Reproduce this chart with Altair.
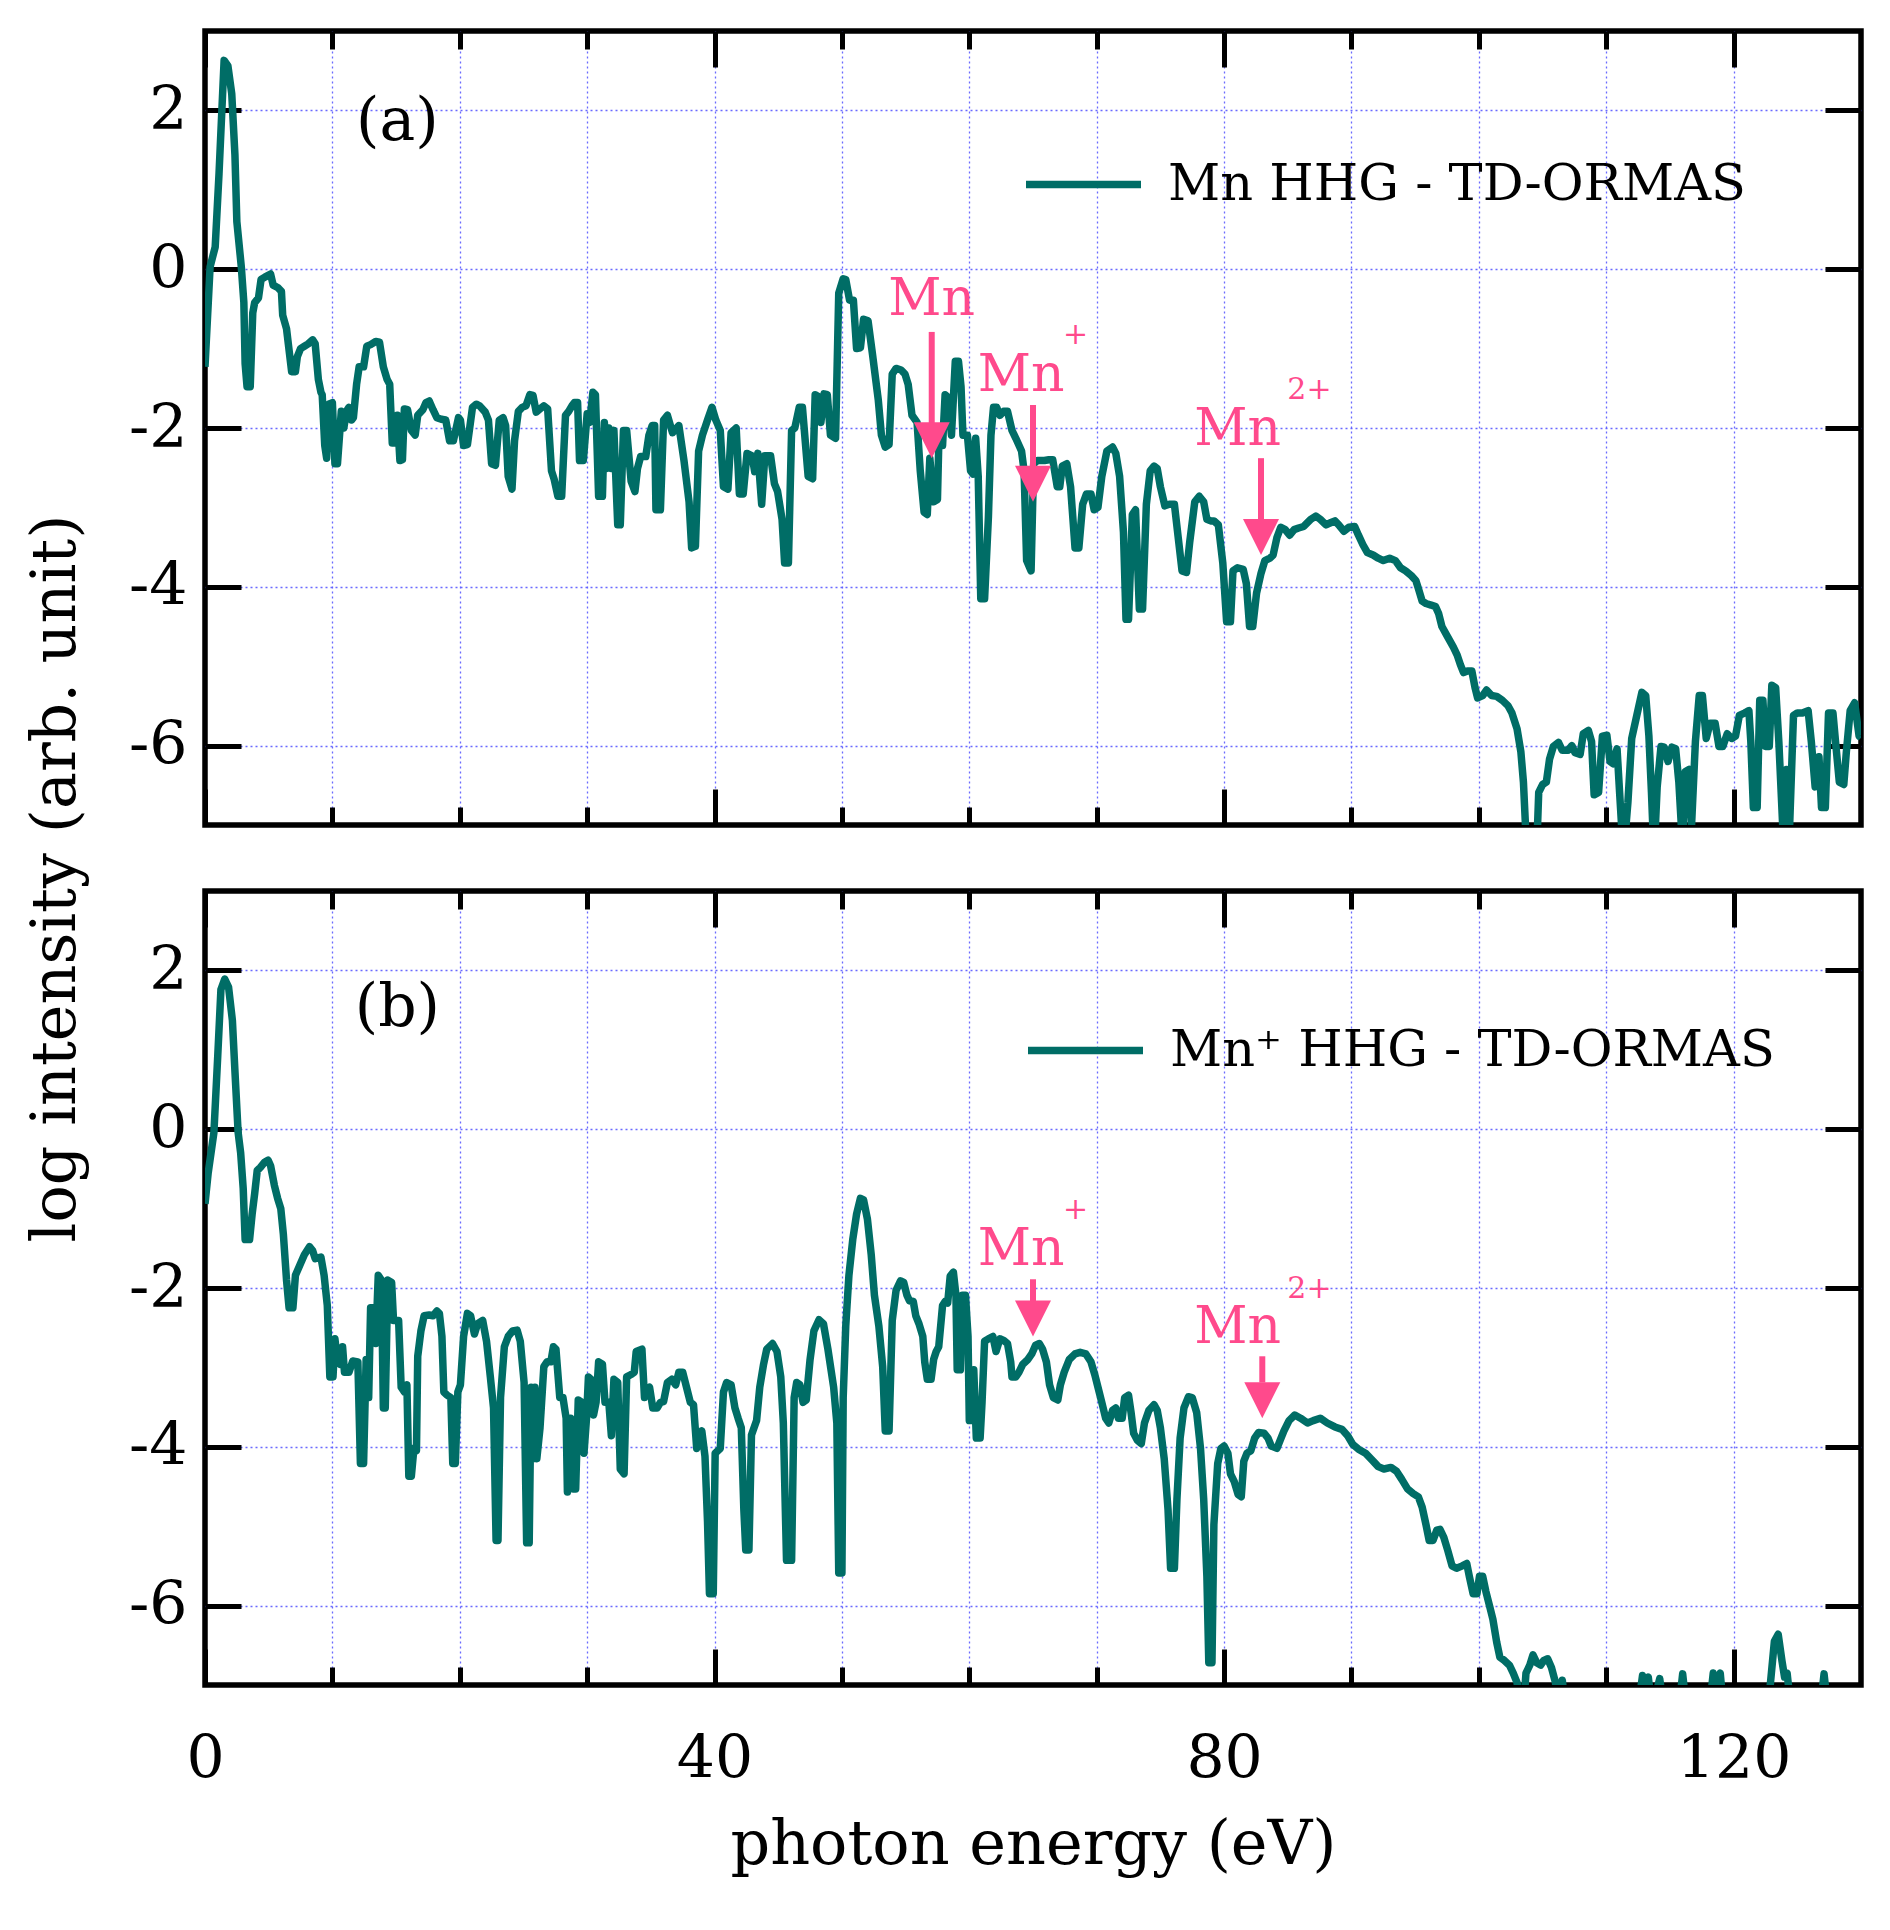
import altair as alt
import pandas as pd

# ---------------- data ----------------
energy_a = [0.0, 0.4, 0.8, 1.1, 1.5, 1.8, 2.1, 2.35, 2.5, 2.85, 3.05, 3.15, 3.3, 3.55, 3.75, 3.9, 4.2, 4.4, 4.7, 5.15,
            5.35, 5.7, 6.0, 6.1, 6.4, 6.8, 7.1, 7.25, 7.5, 7.8, 8.1, 8.45, 8.65, 8.9, 9.1, 9.2, 9.4, 9.55, 9.7, 10.0,
            10.2, 10.4, 10.7, 10.9, 11.1, 11.3, 11.5, 11.65, 11.9, 12.1, 12.45, 12.7, 13.0, 13.4, 13.7, 14.0, 14.3, 14.5, 14.7, 14.9,
            15.1, 15.3, 15.5, 15.65, 15.9, 16.2, 16.5, 16.7, 17.1, 17.35, 17.6, 17.9, 18.2, 18.55, 18.9, 19.2, 19.5, 19.9, 20.05, 20.3,
            20.6, 21.0, 21.3, 21.55, 22.0, 22.25, 22.5, 22.8, 23.1, 23.4, 23.6, 23.8, 24.1, 24.3, 24.6, 24.9, 25.2, 25.5, 25.75, 26.0,
            26.3, 26.6, 26.9, 27.2, 27.4, 27.7, 28.0, 28.3, 28.55, 28.85, 29.0, 29.25, 29.4, 29.7, 30.0, 30.2, 30.45, 30.65, 30.9, 31.2,
            31.35, 31.5, 31.7, 31.9, 32.1, 32.4, 32.6, 32.85, 33.1, 33.45, 33.75, 33.95, 34.2, 34.6, 34.85, 35.1, 35.3, 35.4, 35.75, 36.0,
            36.3, 36.7, 37.2, 37.6, 38.0, 38.2, 38.5, 38.75, 39.05, 39.45, 39.8, 40.1, 40.45, 40.7, 41.05, 41.3, 41.7, 41.95, 42.25, 42.55,
            42.95, 43.15, 43.4, 43.7, 43.95, 44.4, 44.7, 44.95, 45.3, 45.5, 45.8, 46.05, 46.3, 46.65, 46.9, 47.35, 47.7, 47.9, 48.2, 48.35,
            48.6, 48.85, 49.1, 49.5, 49.75, 50.1, 50.3, 50.6, 50.9, 51.15, 51.45, 51.7, 52.05, 52.4, 52.85, 53.1, 53.4, 53.7, 53.95, 54.25,
            54.65, 54.95, 55.2, 55.5, 55.9, 56.15, 56.45, 56.7, 56.9, 57.2, 57.5, 57.6, 57.9, 58.1, 58.3, 58.6, 58.9, 59.15, 59.35, 59.5,
            59.85, 60.1, 60.3, 60.5, 60.7, 60.9, 61.2, 61.5, 61.7, 61.9, 62.15, 62.4, 62.7, 63.0, 63.35, 63.65, 64.1, 64.3, 64.5, 64.85,
            65.05, 65.35, 65.6, 65.9, 66.25, 66.55, 66.9, 67.1, 67.3, 67.65, 67.95, 68.3, 68.6, 68.9, 69.2, 69.55, 69.8, 70.1, 70.4, 70.8,
            71.25, 71.5, 71.8, 72.1, 72.3, 72.5, 72.8, 73.05, 73.35, 73.6, 73.9, 74.2, 74.5, 74.75, 75.0, 75.35, 75.7, 76.1, 76.4, 76.7,
            77.05, 77.3, 77.7, 78.05, 78.4, 78.65, 78.95, 79.2, 79.55, 79.9, 80.2, 80.5, 80.7, 81.05, 81.5, 81.75, 82.0, 82.25, 82.55, 82.9,
            83.2, 83.6, 83.85, 84.15, 84.45, 84.8, 85.15, 85.5, 85.85, 86.25, 86.8, 87.2, 87.55, 88.0, 88.4, 88.7, 89.0, 89.4, 89.8, 90.25,
            90.55, 90.9, 91.25, 91.7, 92.1, 92.5, 93.0, 93.45, 93.85, 94.25, 94.7, 95.05, 95.25, 95.55, 95.85, 96.25, 96.6, 96.85, 97.1, 97.55,
            98.0, 98.3, 98.55, 98.8, 99.1, 99.45, 99.7, 99.9, 100.3, 100.6, 101.0, 101.4, 101.85, 102.3, 102.6, 103.0, 103.3, 103.5, 103.65, 103.8,
            104.5, 104.7, 105.0, 105.3, 105.55, 105.85, 106.25, 106.55, 107.0, 107.3, 107.55, 107.95, 108.2, 108.6, 108.85, 109.05, 109.4, 109.7, 110.05, 110.3,
            110.55, 110.85, 111.05, 111.35, 111.7, 112.0, 112.4, 112.8, 113.1, 113.35, 113.55, 113.75, 114.0, 114.3, 114.55, 114.85, 115.15, 115.45, 115.7, 116.0,
            116.2, 116.5, 116.7, 117.0, 117.3, 117.55, 117.85, 118.15, 118.55, 118.85, 119.15, 119.5, 119.85, 120.15, 120.45, 120.85, 121.2, 121.35, 121.55, 121.85,
            122.05, 122.3, 122.5, 122.8, 123.0, 123.3, 123.55, 123.85, 124.15, 124.4, 124.7, 125.0, 125.4, 125.85, 126.1, 126.4, 126.7, 126.9, 127.2, 127.45,
            127.8, 128.0, 128.3, 128.65, 128.85, 129.15, 129.5, 129.85, 130.0]
log_a = [-1.23, 0.03, 0.28, 1.2, 2.63, 2.56, 2.21, 1.44, 0.6, 0.03, -0.42, -1.19, -1.48, -1.48, -0.55, -0.42, -0.36, -0.13, -0.10, -0.06,
         -0.2, -0.23, -0.28, -0.58, -0.75, -1.29, -1.29, -1.1, -1.0, -0.97, -0.94, -0.89, -0.94, -1.39, -1.55, -1.58, -2.22, -2.38, -1.7, -1.68,
         -2.45, -2.45, -1.79, -2.0, -1.79, -1.74, -1.9, -1.87, -1.45, -1.23, -1.23, -0.97, -0.95, -0.91, -0.92, -1.23, -1.39, -1.45, -2.19, -2.19,
         -1.84, -2.41, -2.4, -1.76, -1.77, -2.03, -2.09, -1.84, -1.77, -1.68, -1.66, -1.77, -1.87, -1.89, -1.9, -2.16, -2.16, -1.87, -1.9, -2.22,
         -2.21, -1.74, -1.7, -1.72, -1.8, -1.9, -2.45, -2.47, -1.9, -1.87, -1.97, -2.61, -2.77, -2.16, -1.79, -1.74, -1.72, -1.58, -1.59, -1.8,
         -1.76, -1.72, -1.76, -2.54, -2.64, -2.86, -2.86, -1.84, -1.79, -1.71, -1.68, -1.68, -2.41, -2.41, -1.82, -1.93, -1.55, -1.58, -2.86, -2.86,
         -1.93, -2.51, -2.0, -2.51, -2.03, -3.22, -3.22, -2.03, -2.03, -2.67, -2.8, -2.51, -2.36, -2.36, -2.09, -1.97, -1.97, -3.03, -3.03, -1.9,
         -1.84, -2.06, -1.97, -2.41, -2.93, -3.51, -3.49, -2.29, -2.09, -1.9, -1.74, -1.9, -2.03, -2.74, -2.77, -2.06, -2.0, -2.83, -2.83, -2.32,
         -2.35, -2.55, -2.32, -2.96, -2.35, -2.35, -2.7, -2.8, -3.15, -3.7, -3.7, -2.03, -2.0, -1.74, -1.74, -2.61, -2.64, -1.58, -1.61, -1.93,
         -1.57, -1.58, -2.09, -2.13, -0.3, -0.12, -0.13, -0.39, -0.39, -1.0, -0.99, -0.63, -0.65, -1.07, -1.64, -2.09, -2.24, -2.21, -1.32, -1.25,
         -1.27, -1.32, -1.45, -1.84, -1.93, -2.54, -3.06, -3.09, -2.38, -2.93, -2.9, -2.22, -2.22, -1.58, -1.61, -2.09, -1.16, -1.16, -1.48, -2.09,
         -2.09, -2.54, -2.58, -2.13, -2.61, -4.15, -4.15, -3.12, -2.09, -1.74, -1.74, -1.84, -1.79, -1.79, -2.03, -2.13, -2.29, -2.54, -3.67, -3.8,
         -2.45, -2.41, -2.41, -2.41, -2.4, -2.4, -2.74, -2.74, -2.48, -2.45, -2.74, -3.51, -3.51, -2.96, -2.83, -2.83, -3.03, -3.0, -2.61, -2.29,
         -2.24, -2.32, -2.61, -3.31, -4.41, -4.41, -3.09, -3.03, -4.28, -4.28, -2.96, -2.54, -2.48, -2.51, -2.74, -2.98, -2.96, -2.96, -3.38, -3.8,
         -3.82, -3.44, -2.93, -2.86, -2.93, -3.15, -3.17, -3.17, -3.22, -3.7, -4.44, -4.44, -3.8, -3.76, -3.78, -3.96, -4.5, -4.5, -4.08, -3.83,
         -3.67, -3.64, -3.6, -3.38, -3.25, -3.28, -3.35, -3.28, -3.26, -3.24, -3.15, -3.11, -3.15, -3.22, -3.19, -3.17, -3.22, -3.3, -3.25, -3.24,
         -3.35, -3.47, -3.57, -3.6, -3.64, -3.67, -3.64, -3.67, -3.76, -3.8, -3.86, -3.92, -4.02, -4.18, -4.21, -4.23, -4.25, -4.34, -4.5, -4.63,
         -4.76, -4.86, -4.98, -5.08, -5.06, -5.06, -5.27, -5.4, -5.37, -5.3, -5.37, -5.38, -5.43, -5.5, -5.59, -5.79, -6.08, -6.46, -6.97, -7.5,
         -7.5, -6.59, -6.49, -6.46, -6.17, -6.01, -5.96, -6.06, -6.06, -6.0, -6.09, -6.11, -5.85, -5.81, -5.95, -6.62, -6.59, -5.88, -5.87, -6.2,
         -6.23, -6.04, -6.59, -7.4, -6.72, -5.91, -5.62, -5.33, -5.37, -5.88, -6.59, -7.4, -6.52, -6.01, -6.02, -6.2, -6.02, -6.04, -6.46, -7.3,
         -6.33, -6.3, -7.0, -5.95, -5.37, -5.37, -5.91, -5.72, -5.72, -6.01, -6.01, -5.85, -5.91, -5.88, -5.62, -5.59, -5.56, -5.95, -6.78, -6.78,
         -5.43, -5.43, -6.01, -6.01, -5.24, -5.27, -5.95, -7.0, -6.3, -7.0, -5.62, -5.59, -5.59, -5.56, -5.95, -6.52, -6.14, -6.78, -6.78, -5.59,
         -5.59, -5.95, -6.46, -6.49, -6.08, -5.56, -5.46, -5.88, -5.9]

energy_b = [0.0, 0.25, 0.7, 1.0, 1.25, 1.55, 1.85, 2.15, 2.35, 2.6, 2.8, 3.0, 3.15, 3.5, 3.7, 3.9, 4.1, 4.35, 4.65, 4.95,
            5.15, 5.45, 5.7, 5.95, 6.15, 6.4, 6.6, 6.9, 7.1, 7.45, 7.8, 8.2, 8.45, 8.65, 9.1, 9.35, 9.6, 9.8, 10.05, 10.2,
            10.4, 10.6, 10.8, 10.95, 11.3, 11.6, 12.0, 12.2, 12.45, 12.65, 12.85, 13.0, 13.2, 13.4, 13.6, 13.85, 14.0, 14.15, 14.35, 14.65,
            14.8, 15.2, 15.4, 15.65, 15.85, 16.0, 16.2, 16.4, 16.6, 16.7, 16.95, 17.2, 17.6, 17.9, 18.2, 18.4, 18.6, 18.75, 19.0, 19.3,
            19.45, 19.65, 19.85, 20.05, 20.3, 20.6, 20.85, 21.15, 21.4, 21.8, 22.1, 22.4, 22.65, 22.85, 23.0, 23.2, 23.5, 23.8, 24.15, 24.5,
            24.75, 25.05, 25.25, 25.45, 25.6, 25.75, 25.9, 26.05, 26.3, 26.6, 26.85, 27.15, 27.35, 27.55, 27.85, 28.1, 28.35, 28.45, 28.7, 28.9,
            29.1, 29.3, 29.6, 29.75, 29.95, 30.1, 30.3, 30.5, 30.7, 30.9, 31.2, 31.4, 31.7, 31.9, 32.1, 32.4, 32.6, 32.9, 33.1, 33.45,
            33.7, 33.85, 34.3, 34.5, 34.7, 34.9, 35.15, 35.5, 35.75, 36.0, 36.3, 36.65, 36.95, 37.2, 37.5, 37.8, 38.1, 38.35, 38.6, 39.0,
            39.25, 39.45, 39.6, 39.9, 40.05, 40.45, 40.7, 40.95, 41.3, 41.6, 41.85, 42.1, 42.3, 42.45, 42.7, 42.9, 43.3, 43.55, 43.85, 44.1,
            44.55, 44.9, 45.2, 45.4, 45.65, 46.05, 46.25, 46.45, 46.7, 46.95, 47.2, 47.5, 47.8, 48.2, 48.55, 48.9, 49.35, 49.6, 49.75, 50.0,
            50.1, 50.3, 50.55, 50.85, 51.15, 51.45, 51.7, 52.0, 52.3, 52.55, 52.9, 53.2, 53.4, 53.7, 53.95, 54.25, 54.6, 54.85, 55.1, 55.3,
            55.6, 55.8, 56.05, 56.35, 56.5, 56.7, 57.0, 57.2, 57.4, 57.6, 57.9, 58.1, 58.3, 58.5, 58.75, 58.95, 59.05, 59.3, 59.45, 59.7,
            59.9, 60.0, 60.2, 60.35, 60.55, 60.85, 61.0, 61.2, 61.5, 61.85, 62.1, 62.4, 62.7, 63.0, 63.25, 63.35, 63.65, 63.9, 64.2, 64.6,
            64.9, 65.2, 65.5, 65.75, 66.05, 66.3, 66.6, 66.95, 67.15, 67.45, 67.85, 68.3, 68.7, 69.15, 69.55, 69.85, 70.1, 70.4, 70.7, 70.95,
            71.25, 71.5, 71.7, 72.0, 72.2, 72.5, 72.7, 72.9, 73.2, 73.5, 73.75, 74.1, 74.5, 74.75, 75.0, 75.3, 75.6, 75.8, 76.1, 76.3,
            76.55, 76.85, 77.2, 77.5, 77.85, 78.15, 78.4, 78.65, 78.8, 79.05, 79.2, 79.5, 79.75, 80.0, 80.3, 80.5, 80.8, 81.1, 81.35, 81.55,
            81.8, 82.1, 82.4, 82.7, 83.15, 83.45, 83.7, 84.15, 84.4, 84.7, 85.1, 85.55, 86.0, 86.55, 87.0, 87.55, 88.1, 88.7, 89.25, 89.7,
            90.1, 90.55, 91.1, 91.7, 92.1, 92.55, 93.1, 93.55, 93.95, 94.4, 94.85, 95.25, 95.55, 95.85, 96.1, 96.4, 96.7, 96.95, 97.25, 97.55,
            97.9, 98.25, 98.7, 99.05, 99.25, 99.55, 99.85, 100.05, 100.3, 100.55, 100.85, 101.1, 101.4, 101.65, 102.0, 102.4, 102.7, 103.0, 103.3, 103.5,
            103.7, 104.0, 104.25, 104.55, 104.85, 105.1, 105.4, 105.7, 106.0, 106.25, 106.55, 106.8, 112.5, 112.85, 113.1, 113.3, 113.6, 114.2, 114.5, 115.7,
            116.0, 116.3, 118.1, 118.4, 118.7, 118.95, 119.2, 122.7, 123.2, 123.5, 123.8, 124.0, 124.2, 124.5, 126.8, 127.1, 127.4, 130.0]
log_b = [-0.94, -0.55, -0.04, 0.92, 1.76, 1.89, 1.79, 1.37, 0.73, -0.04, -0.3, -0.75, -1.39, -1.39, -1.07, -0.81, -0.52, -0.48, -0.42, -0.39,
         -0.46, -0.71, -0.87, -1.0, -1.32, -1.9, -2.25, -2.25, -1.84, -1.71, -1.58, -1.48, -1.53, -1.63, -1.61, -1.84, -2.22, -3.12, -3.12, -2.64,
         -2.93, -2.96, -2.74, -3.06, -3.06, -2.92, -2.93, -4.21, -4.21, -2.9, -3.38, -2.25, -2.25, -2.7, -1.84, -1.9, -3.51, -3.51, -1.9, -1.93,
         -2.41, -2.41, -3.25, -3.31, -3.22, -4.37, -4.37, -4.02, -4.05, -2.86, -2.54, -2.35, -2.34, -2.35, -2.29, -2.32, -2.61, -3.31, -3.35, -3.38,
         -4.21, -4.21, -3.31, -3.22, -2.61, -2.32, -2.35, -2.58, -2.45, -2.41, -2.67, -3.12, -3.51, -5.18, -5.18, -3.38, -2.74, -2.61, -2.54, -2.53,
         -2.67, -3.19, -5.21, -5.21, -3.25, -4.15, -3.25, -4.15, -3.76, -2.99, -2.93, -2.93, -2.74, -2.77, -3.38, -3.38, -3.64, -4.57, -3.64, -4.53,
         -4.53, -3.41, -3.44, -4.08, -3.64, -3.12, -3.15, -3.6, -3.44, -2.93, -2.96, -3.44, -3.44, -3.86, -3.15, -3.19, -4.28, -4.34, -3.12, -3.09,
         -3.06, -2.8, -2.77, -3.38, -3.28, -3.25, -3.51, -3.51, -3.44, -3.43, -3.19, -3.15, -3.22, -3.06, -3.06, -3.25, -3.44, -3.47, -4.02, -3.8,
         -4.12, -4.95, -5.85, -5.85, -4.08, -4.02, -3.31, -3.19, -3.22, -3.51, -3.64, -3.76, -4.79, -5.3, -5.3, -3.85, -3.67, -3.25, -2.96, -2.77,
         -2.7, -2.8, -3.12, -3.7, -5.43, -5.43, -3.38, -3.19, -3.22, -3.44, -3.41, -2.9, -2.54, -2.4, -2.45, -2.77, -3.25, -3.7, -5.59, -5.59,
         -3.38, -2.48, -1.84, -1.39, -1.07, -0.87, -0.89, -1.13, -1.58, -2.09, -2.48, -2.99, -3.8, -3.8, -2.41, -2.03, -1.91, -1.93, -2.09, -2.16,
         -2.17, -2.35, -2.45, -2.61, -2.93, -3.15, -3.15, -2.9, -2.8, -2.74, -2.22, -2.17, -2.19, -1.85, -1.8, -2.09, -3.03, -3.03, -2.09, -2.09,
         -2.61, -3.67, -3.67, -3.03, -3.89, -3.89, -3.44, -2.67, -2.64, -2.61, -2.8, -2.64, -2.66, -2.7, -2.93, -3.12, -3.12, -3.06, -2.96, -2.9,
         -2.83, -2.72, -2.7, -2.77, -2.93, -3.22, -3.38, -3.41, -3.22, -3.06, -2.9, -2.83, -2.81, -2.83, -2.93, -3.09, -3.25, -3.44, -3.64, -3.7,
         -3.54, -3.51, -3.64, -3.64, -3.38, -3.35, -3.57, -3.83, -3.92, -3.96, -3.7, -3.54, -3.47, -3.54, -3.76, -4.15, -4.79, -5.53, -5.53, -4.66,
         -3.89, -3.51, -3.37, -3.38, -3.57, -4.02, -4.66, -5.63, -6.72, -6.72, -4.98, -4.21, -4.02, -3.99, -4.08, -4.34, -4.44, -4.6, -4.63, -4.18,
         -4.08, -4.05, -3.89, -3.82, -3.83, -3.89, -3.99, -4.02, -3.92, -3.8, -3.67, -3.6, -3.64, -3.7, -3.67, -3.64, -3.7, -3.75, -3.78, -3.86,
         -3.97, -4.03, -4.08, -4.18, -4.25, -4.28, -4.26, -4.31, -4.41, -4.53, -4.59, -4.63, -4.76, -4.98, -5.18, -5.18, -5.05, -5.04, -5.14, -5.3,
         -5.5, -5.53, -5.5, -5.47, -5.63, -5.85, -5.85, -5.63, -5.63, -5.82, -6.01, -6.17, -6.46, -6.65, -6.69, -6.75, -6.85, -6.97, -7.3, -7.3,
         -6.85, -6.75, -6.62, -6.72, -6.75, -6.69, -6.67, -6.78, -6.96, -7.2, -6.94, -7.3, -7.3, -6.88, -7.0, -6.9, -7.3, -6.92, -7.3, -7.3,
         -6.86, -7.3, -7.3, -6.85, -7.0, -6.85, -7.3, -7.3, -6.45, -6.36, -6.7, -6.9, -6.85, -7.3, -7.3, -6.86, -7.3, -7.3]

series_a = "Mn HHG - TD-ORMAS"
series_b = "Mn\u207a HHG - TD-ORMAS"

# ionisation-threshold annotations (photon energy, log intensity)
ann_a_x = [57.05, 65.0, 82.9]
ann_a_shaft_top = [-0.79, -1.71, -2.38]
ann_a_head_top = [-1.95, -2.49, -3.17]
ann_a_tip = [-2.38, -2.93, -3.60]
ann_a_label_x = [57.05, 64.07, 81.07]
ann_a_label_y = [-0.58, -1.53, -2.21]
ann_a_sup = ["", "+", "2+"]
ann_a_sup_x = [57.05, 68.34, 86.7]
ann_a_sup_y = [-0.58, -0.94, -1.64]

ann_b_x = [65.0, 83.0]
ann_b_shaft_top = [-1.89, -2.86]
ann_b_head_top = [-2.17, -3.19]
ann_b_tip = [-2.61, -3.64]
ann_b_label_x = [64.07, 81.07]
ann_b_label_y = [-1.71, -2.69]
ann_b_sup = ["+", "2+"]
ann_b_sup_x = [68.34, 86.7]
ann_b_sup_y = [-1.13, -2.13]

x_major = [0, 40, 80, 120]
x_minor = [10, 20, 30, 50, 60, 70, 90, 100, 110]
x_grid = [10, 20, 30, 40, 50, 60, 70, 80, 90, 100, 110, 120]
y_major = [-6, -4, -2, 0, 2]

# ---------------- styling ----------------
TEAL = "#006d66"
PINK = "#ff4a8c"
GRID = "#5a5aff"
FONT = "DejaVu Serif"
W, H = 1656, 794
MAJ, MIN, TW = 36, 18, 5
LW = 7.5


def x_axis(orient, values, size, labels=False, title=None, grid=False):
    kw = dict(orient=orient, values=values, domain=False, grid=grid, labels=labels,
              tickColor="black", tickWidth=TW)
    if grid:
        kw.update(ticks=False, gridColor=GRID, gridDash=[2, 3], gridWidth=1.3, gridOpacity=0.9)
    else:
        kw.update(offset=-size, tickSize=size)
    if labels:
        kw.update(labelFont=FONT, labelFontSize=60, labelColor="black", labelPadding=45,
                  labelFlush=False, labelExpr="'' + datum.value")
    if title:
        kw.update(title=title, titleFont=FONT, titleFontSize=62, titleFontWeight="normal",
                  titleColor="black", titlePadding=25)
    else:
        kw.update(title=None)
    return alt.Axis(**kw)


def y_axis(orient, size, labels=False, grid=False, title=None):
    kw = dict(orient=orient, values=y_major, domain=False, grid=grid, labels=labels,
              tickColor="black", tickWidth=TW)
    if grid:
        kw.update(ticks=False, gridColor=GRID, gridDash=[2, 3], gridWidth=1.3, gridOpacity=0.9)
    else:
        kw.update(offset=-size, tickSize=size)
    if labels:
        kw.update(labelFont=FONT, labelFontSize=60, labelColor="black", labelPadding=18,
                  labelFlush=False, labelExpr="'' + datum.value")
    if title:
        kw.update(title=title, titleFont=FONT, titleFontSize=62, titleFontWeight="normal",
                  titleColor="black", titlePadding=41, titleY=847)
    else:
        kw.update(title=None)
    return alt.Axis(**kw)


def panel(energy, logI, series, ax, shaft_top, head_top, tip, lx, ly, sup, sx, sy,
          plabel, plabel_y, legend_x, legend_y, bottom):
    xs = alt.Scale(domain=[0, 130], nice=False, zero=False)
    ys = alt.Scale(domain=[-7, 3], nice=False, zero=False)
    df = pd.DataFrame({"energy": energy, "logI": logI, "series": series})
    ann = pd.DataFrame({"x": ax, "y1": shaft_top, "y2": head_top, "tip": tip,
                        "lx": lx, "ly": ly, "name": ["Mn"] * len(ax),
                        "sup": sup, "sx": sx, "sy": sy})
    lab = pd.DataFrame({"x": [15.1], "y": [plabel_y], "t": [plabel]})

    line = alt.Chart(df).mark_line(clip=True, strokeWidth=LW, strokeJoin="round").encode(
        x=alt.X("energy:Q", scale=xs,
                axis=x_axis("bottom", x_major, MAJ, labels=bottom,
                            title="photon energy (eV)" if bottom else None)),
        y=alt.Y("logI:Q", scale=ys,
                axis=y_axis("left", MAJ, labels=True,
                            title=None if bottom else "log intensity (arb. unit)")),
        color=alt.Color("series:N", scale=alt.Scale(range=[TEAL]),
                        legend=alt.Legend(orient="none", legendX=legend_x, legendY=legend_y,
                                          title=None, symbolType="stroke",
                                          symbolSize=115 * 115, symbolStrokeWidth=LW,
                                          labelFont=FONT, labelFontSize=51, labelColor="black",
                                          labelOffset=23, labelLimit=2000, padding=0)),
    )
    shaft = alt.Chart(ann).mark_rule(color=PINK, strokeWidth=6).encode(
        x=alt.X("x:Q", scale=xs, axis=x_axis("bottom", x_minor, MIN)),
        y=alt.Y("y1:Q", scale=ys, axis=y_axis("right", MAJ)),
        y2="y2:Q",
    )
    head = alt.Chart(ann).mark_point(shape="M-1,-2L1,-2L0,0Z", size=36 * 36, filled=True,
                                     color=PINK, opacity=1, strokeWidth=0).encode(
        x=alt.X("x:Q", scale=xs, axis=x_axis("top", x_major, MAJ)),
        y=alt.Y("tip:Q", scale=ys, axis=y_axis("left", 0, grid=True)),
    )
    label = alt.Chart(ann).mark_text(color=PINK, font=FONT, fontSize=52, align="center",
                                     baseline="alphabetic").encode(
        x=alt.X("lx:Q", scale=xs, axis=x_axis("top", x_minor, MIN)),
        y=alt.Y("ly:Q", scale=ys, axis=None),
        text="name:N",
    )
    suptext = alt.Chart(ann).mark_text(color=PINK, font=FONT, fontSize=30, align="center",
                                       baseline="alphabetic").encode(
        x=alt.X("sx:Q", scale=xs, axis=x_axis("bottom", x_grid, 0, grid=True)),
        y=alt.Y("sy:Q", scale=ys, axis=None),
        text="sup:N",
    )
    plab = alt.Chart(lab).mark_text(color="black", font=FONT, fontSize=60, align="center",
                                    baseline="middle").encode(
        x=alt.X("x:Q", scale=xs, axis=None),
        y=alt.Y("y:Q", scale=ys, axis=None),
        text="t:N",
    )
    return alt.layer(line, plab, suptext, shaft, head, label).resolve_axis(
        x="independent", y="independent").properties(width=W, height=H)


top = panel(energy_a, log_a, series_a, ann_a_x, ann_a_shaft_top, ann_a_head_top, ann_a_tip,
            ann_a_label_x, ann_a_label_y, ann_a_sup, ann_a_sup_x, ann_a_sup_y,
            "(a)", 1.86, 817, 92, False)
bottom = panel(energy_b, log_b, series_b, ann_b_x, ann_b_shaft_top, ann_b_head_top, ann_b_tip,
               ann_b_label_x, ann_b_label_y, ann_b_sup, ann_b_sup_x, ann_b_sup_y,
               "(b)", 1.53, 819, 98, True)

chart = alt.vconcat(top, bottom, spacing=66, bounds="flush").resolve_scale(
    color="independent").properties(
    padding={"left": 21, "top": 25, "right": 0, "bottom": 0},
).configure_view(stroke="black", strokeWidth=5.5)

chart.save("out.html", embed_options={"renderer": "svg", "actions": False})
